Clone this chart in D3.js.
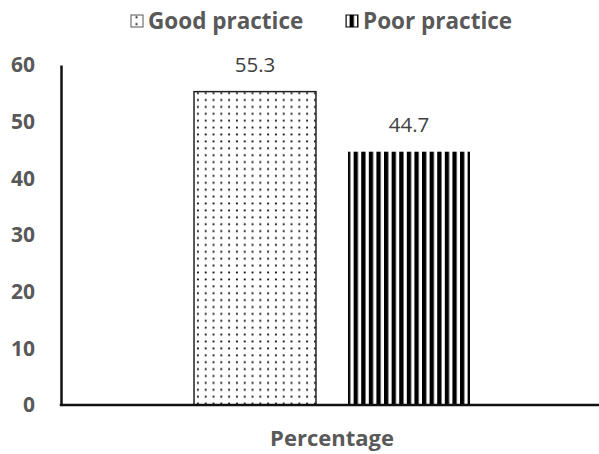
<!DOCTYPE html>
<html>
<head>
<meta charset="utf-8">
<script src="https://cdn.jsdelivr.net/npm/d3@7/dist/d3.min.js"></script>
<style>
  html, body { margin: 0; padding: 0; background: #fff; }
  svg { display: block; font-family: "Open Sans", "Noto Sans", sans-serif; }
</style>
</head>
<body>
<svg id="chart" width="599" height="454"></svg>
<script>
// Share of respondents by practice level
const categories = ["Percentage"];
const seriesNames = ["Good practice", "Poor practice"];
const goodPractice = [55.3];
const poorPractice = [44.7];
const yTicks = [0, 10, 20, 30, 40, 50, 60];

const seriesValues = [goodPractice, poorPractice];
const svg = d3.select("#chart");
const W = 599, H = 454;
const margin = { left: 61, right: -4, top: 65, bottom: 49 };
const plotBottom = H - margin.bottom;

// Fill patterns: dotted for good, vertical stripes for poor
const defs = svg.append("defs");
const dots = defs.append("pattern").attr("id", "pat-dots")
  .attr("patternUnits", "userSpaceOnUse").attr("width", 7.8).attr("height", 6.9);
dots.append("rect").attr("width", 7.8).attr("height", 6.9).attr("fill", "#fff");
dots.append("rect").attr("x", 3).attr("y", 2.5).attr("width", 1.8).attr("height", 1.8).attr("fill", "#000");

const stripes = defs.append("pattern").attr("id", "pat-stripes")
  .attr("patternUnits", "userSpaceOnUse").attr("width", 7.6).attr("height", 8);
stripes.append("rect").attr("width", 7.6).attr("height", 8).attr("fill", "#fff");
stripes.append("rect").attr("x", 0).attr("width", 4.3).attr("height", 8).attr("fill", "#000");

const fills = ["url(#pat-dots)", "url(#pat-stripes)"];
const strokes = ["#222", "none"];

const x0 = d3.scaleBand().domain(categories)
  .range([margin.left, W - margin.right]).paddingInner(0).paddingOuter(0.482);
const x1 = d3.scaleBand().domain(seriesNames)
  .range([0, x0.bandwidth()]).paddingInner(0.208).paddingOuter(0);
const y = d3.scaleLinear().domain([0, 60]).range([plotBottom, margin.top]);

// Bars with value labels
categories.forEach((cat, ci) => {
  const g = svg.append("g").attr("transform", `translate(${x0(cat)},0)`);
  seriesNames.forEach((name, si) => {
    const v = seriesValues[si][ci];
    g.append("rect")
      .attr("x", x1(name)).attr("y", y(v))
      .attr("width", x1.bandwidth()).attr("height", y(0) - y(v))
      .attr("fill", fills[si])
      .attr("stroke", strokes[si]).attr("stroke-width", 1.5);
    g.append("text")
      .attr("x", x1(name) + x1.bandwidth() / 2).attr("y", y(v) - 20)
      .attr("text-anchor", "middle")
      .attr("font-size", 20.5).attr("fill", "#404040")
      .text(v.toFixed(1));
  });
});

// Y axis
const yAxis = d3.axisLeft(y).tickValues(yTicks).tickSize(0).tickPadding(26);
const yg = svg.append("g").attr("transform", `translate(${margin.left},0)`).call(yAxis);
yg.select(".domain").attr("stroke", "#111").attr("stroke-width", 2.5);
yg.selectAll("text").attr("font-size", 21).attr("font-weight", "bold")
  .attr("fill", "#595959").attr("font-family", "'Open Sans', sans-serif");

// X axis
const xAxis = d3.axisBottom(x0).tickSize(0).tickPadding(25);
const xg = svg.append("g").attr("transform", `translate(0,${plotBottom})`).call(xAxis);
xg.select(".domain").attr("stroke", "#111").attr("stroke-width", 2.5)
  .attr("d", `M${margin.left - 1.25},0H${W}`);
xg.selectAll("text").attr("font-size", 22).attr("font-weight", "bold")
  .attr("fill", "#595959").attr("font-family", "'Open Sans', sans-serif");

// Legend
const legendItems = [
  { name: seriesNames[0], x: 131, fill: fills[0], stroke: "#555" },
  { name: seriesNames[1], x: 346, fill: fills[1], stroke: "#000" }
];
legendItems.forEach(d => {
  svg.append("rect").attr("x", d.x).attr("y", 15).attr("width", 12).attr("height", 12)
    .attr("fill", d.fill).attr("stroke", d.stroke).attr("stroke-width", 1);
  svg.append("text").attr("x", d.x + 17).attr("y", 29)
    .attr("font-size", 22.5).attr("font-weight", "bold").attr("fill", "#595959")
    .text(d.name);
});
</script>
</body>
</html>
